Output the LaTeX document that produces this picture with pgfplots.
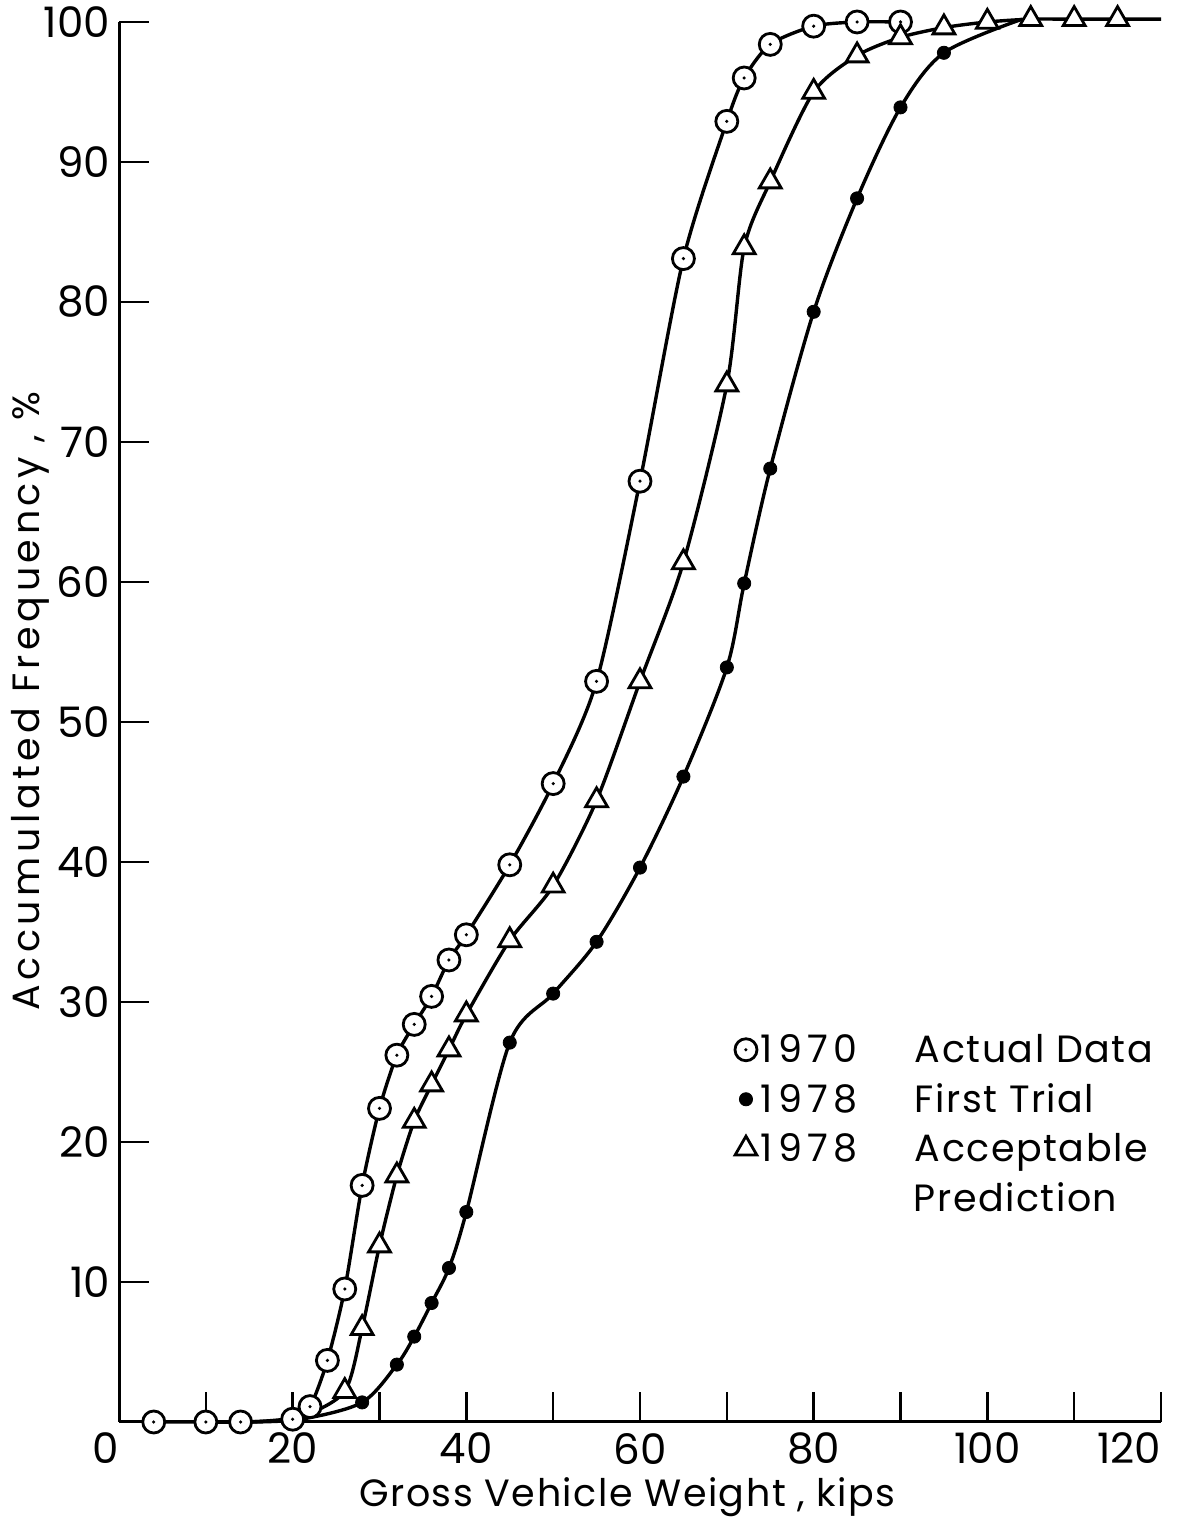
\documentclass[border=0pt]{standalone}
\usepackage{fontspec}
\setmainfont{Poppins}
\newfontfamily\ylbl[LetterSpace=12]{Poppins}
\newfontfamily\lbl[LetterSpace=4]{Poppins}
\newfontfamily\yr[LetterSpace=14]{Poppins}
\usepackage{pgfplots}
\pgfplotsset{compat=1.18}

% open circle with a centre dot
\pgfdeclareplotmark{odot}{%
  \pgfpathcircle{\pgfpointorigin}{\pgfplotmarksize}%
  \pgfusepathqfillstroke
  \begin{pgfscope}%
    \pgfsetfillcolor{black}%
    \pgfpathcircle{\pgfpointorigin}{0.16\pgfplotmarksize}%
    \pgfusepathqfill
  \end{pgfscope}}

\begin{document}
\begin{tikzpicture}
\useasboundingbox (0,0) rectangle (594.5pt,760pt);
\begin{axis}[
  at={(59.5pt,49pt)}, anchor=south west,
  scale only axis, width=521pt, height=700pt,
  xmin=0, xmax=120, ymin=0, ymax=100,
  axis lines*=left,
  axis line style={line width=1.5pt},
  xtick={0,20,...,120}, minor xtick={10,30,...,110},
  xticklabels={\llap{0},20,40,60,80,100,\llap{120}},
  ytick={10,20,...,100},
  tick align=inside,
  major tick length=15pt, minor tick length=15pt,
  every tick/.style={line width=1.2pt, black},
  /pgf/number format/assume math mode=true,
  tick label style={font=\fontsize{21}{21}\selectfont},
  xticklabel style={yshift=-2pt},
  yticklabel style={xshift=-1pt},
  xlabel={\lbl Gross Vehicle Weight , kips},
  ylabel={\ylbl Accumulated Frequency , \%},
  label style={font=\fontsize{19}{19}\selectfont},
  xlabel style={at={(axis description cs:0.488,-0.0536)}, anchor=center},
  ylabel style={at={(axis description cs:-0.0854,0.515)}, anchor=center},
  clip=false,
  legend cell align=left,
  legend style={draw=none, fill=none, at={(axis description cs:0.585,0.283)},
    anchor=north west, font=\lbl\fontsize{19}{19}\selectfont,
    row sep=5pt},
]
% fitted curves
\addplot[line width=1.7pt, smooth, tension=0.45, forget plot] coordinates {
 (4,0) (10,0) (14,0) (20,0.2) (22,1.1) (24,4.4) (26,9.5) (28,16.9) (30,22.4)
 (32,26.2) (34,28.4) (36,30.4) (38,33.0) (40,34.8) (45,39.8) (50,45.6)
 (55,52.9) (60,67.2) (65,83.1) (70,92.9) (72,96.0) (75,98.4) (80,99.7)
 (85,100) (90,100)};
\addplot[line width=1.7pt, smooth, tension=0.5, forget plot] coordinates {
 (15,0) (21,0.2) (28,1.4) (32,4.1) (34,6.1) (36,8.5) (38,11.0) (40,15.0)
 (45,27.1) (50,30.6) (55,34.3) (60,39.6) (65,46.1) (70,53.9) (72,59.9)
 (75,68.1) (80,79.3) (85,87.4) (90,93.9) (95,97.8) (104,100.2)};
\addplot[line width=1.7pt, smooth, tension=0.45, forget plot] coordinates {
 (15,0) (21,0.4) (26,2.2) (28,6.7) (30,12.6) (32,17.6) (34,21.5) (36,24.1)
 (38,26.6) (40,29.1) (45,34.4) (50,38.3) (55,44.4) (60,52.9) (65,61.4)
 (70,74.1) (72,83.9) (75,88.6) (80,95.0) (85,97.6) (90,98.9) (95,99.6)
 (100,100) (105,100.2) (110,100.2) (115,100.2) (120,100.2)};

% observed / predicted points
\addplot[only marks, mark=odot, mark size=5.5pt, line width=1.4pt, fill=white] coordinates {
 (4,0) (10,0) (14,0) (20,0.2) (22,1.1) (24,4.4) (26,9.5) (28,16.9) (30,22.4)
 (32,26.2) (34,28.4) (36,30.4) (38,33.0) (40,34.8) (45,39.8) (50,45.6)
 (55,52.9) (60,67.2) (65,83.1) (70,92.9) (72,96.0) (75,98.4) (80,99.7)
 (85,100) (90,100)};
\addlegendentry{\makebox[77pt][l]{\yr 1970}Actual Data}
\addplot[only marks, mark=*, mark size=3.3pt, black] coordinates {
 (28,1.4) (32,4.1) (34,6.1) (36,8.5) (38,11.0) (40,15.0)
 (45,27.1) (50,30.6) (55,34.3) (60,39.6) (65,46.1) (70,53.9) (72,59.9)
 (75,68.1) (80,79.3) (85,87.4) (90,93.9) (95,97.8)};
\addlegendentry{\makebox[77pt][l]{\yr 1978}First Trial}
\addplot[only marks, mark=triangle*, mark size=6.3pt, line width=1.4pt,
  mark options={fill=white, draw=black}] coordinates {
 (26,2.2) (28,6.7) (30,12.6) (32,17.6) (34,21.5) (36,24.1)
 (38,26.6) (40,29.1) (45,34.4) (50,38.3) (55,44.4) (60,52.9) (65,61.4)
 (70,74.1) (72,83.9) (75,88.6) (80,95.0) (85,97.6) (90,98.9) (95,99.6)
 (100,100) (105,100.2) (110,100.2) (115,100.2)};
\addlegendentry{\makebox[77pt][l]{\yr 1978}Acceptable}
\node[anchor=base west, font=\lbl\fontsize{19}{19}\selectfont, inner sep=0pt]
  at (axis cs:91.5,15.0) {Prediction};
\end{axis}
\end{tikzpicture}
\end{document}
